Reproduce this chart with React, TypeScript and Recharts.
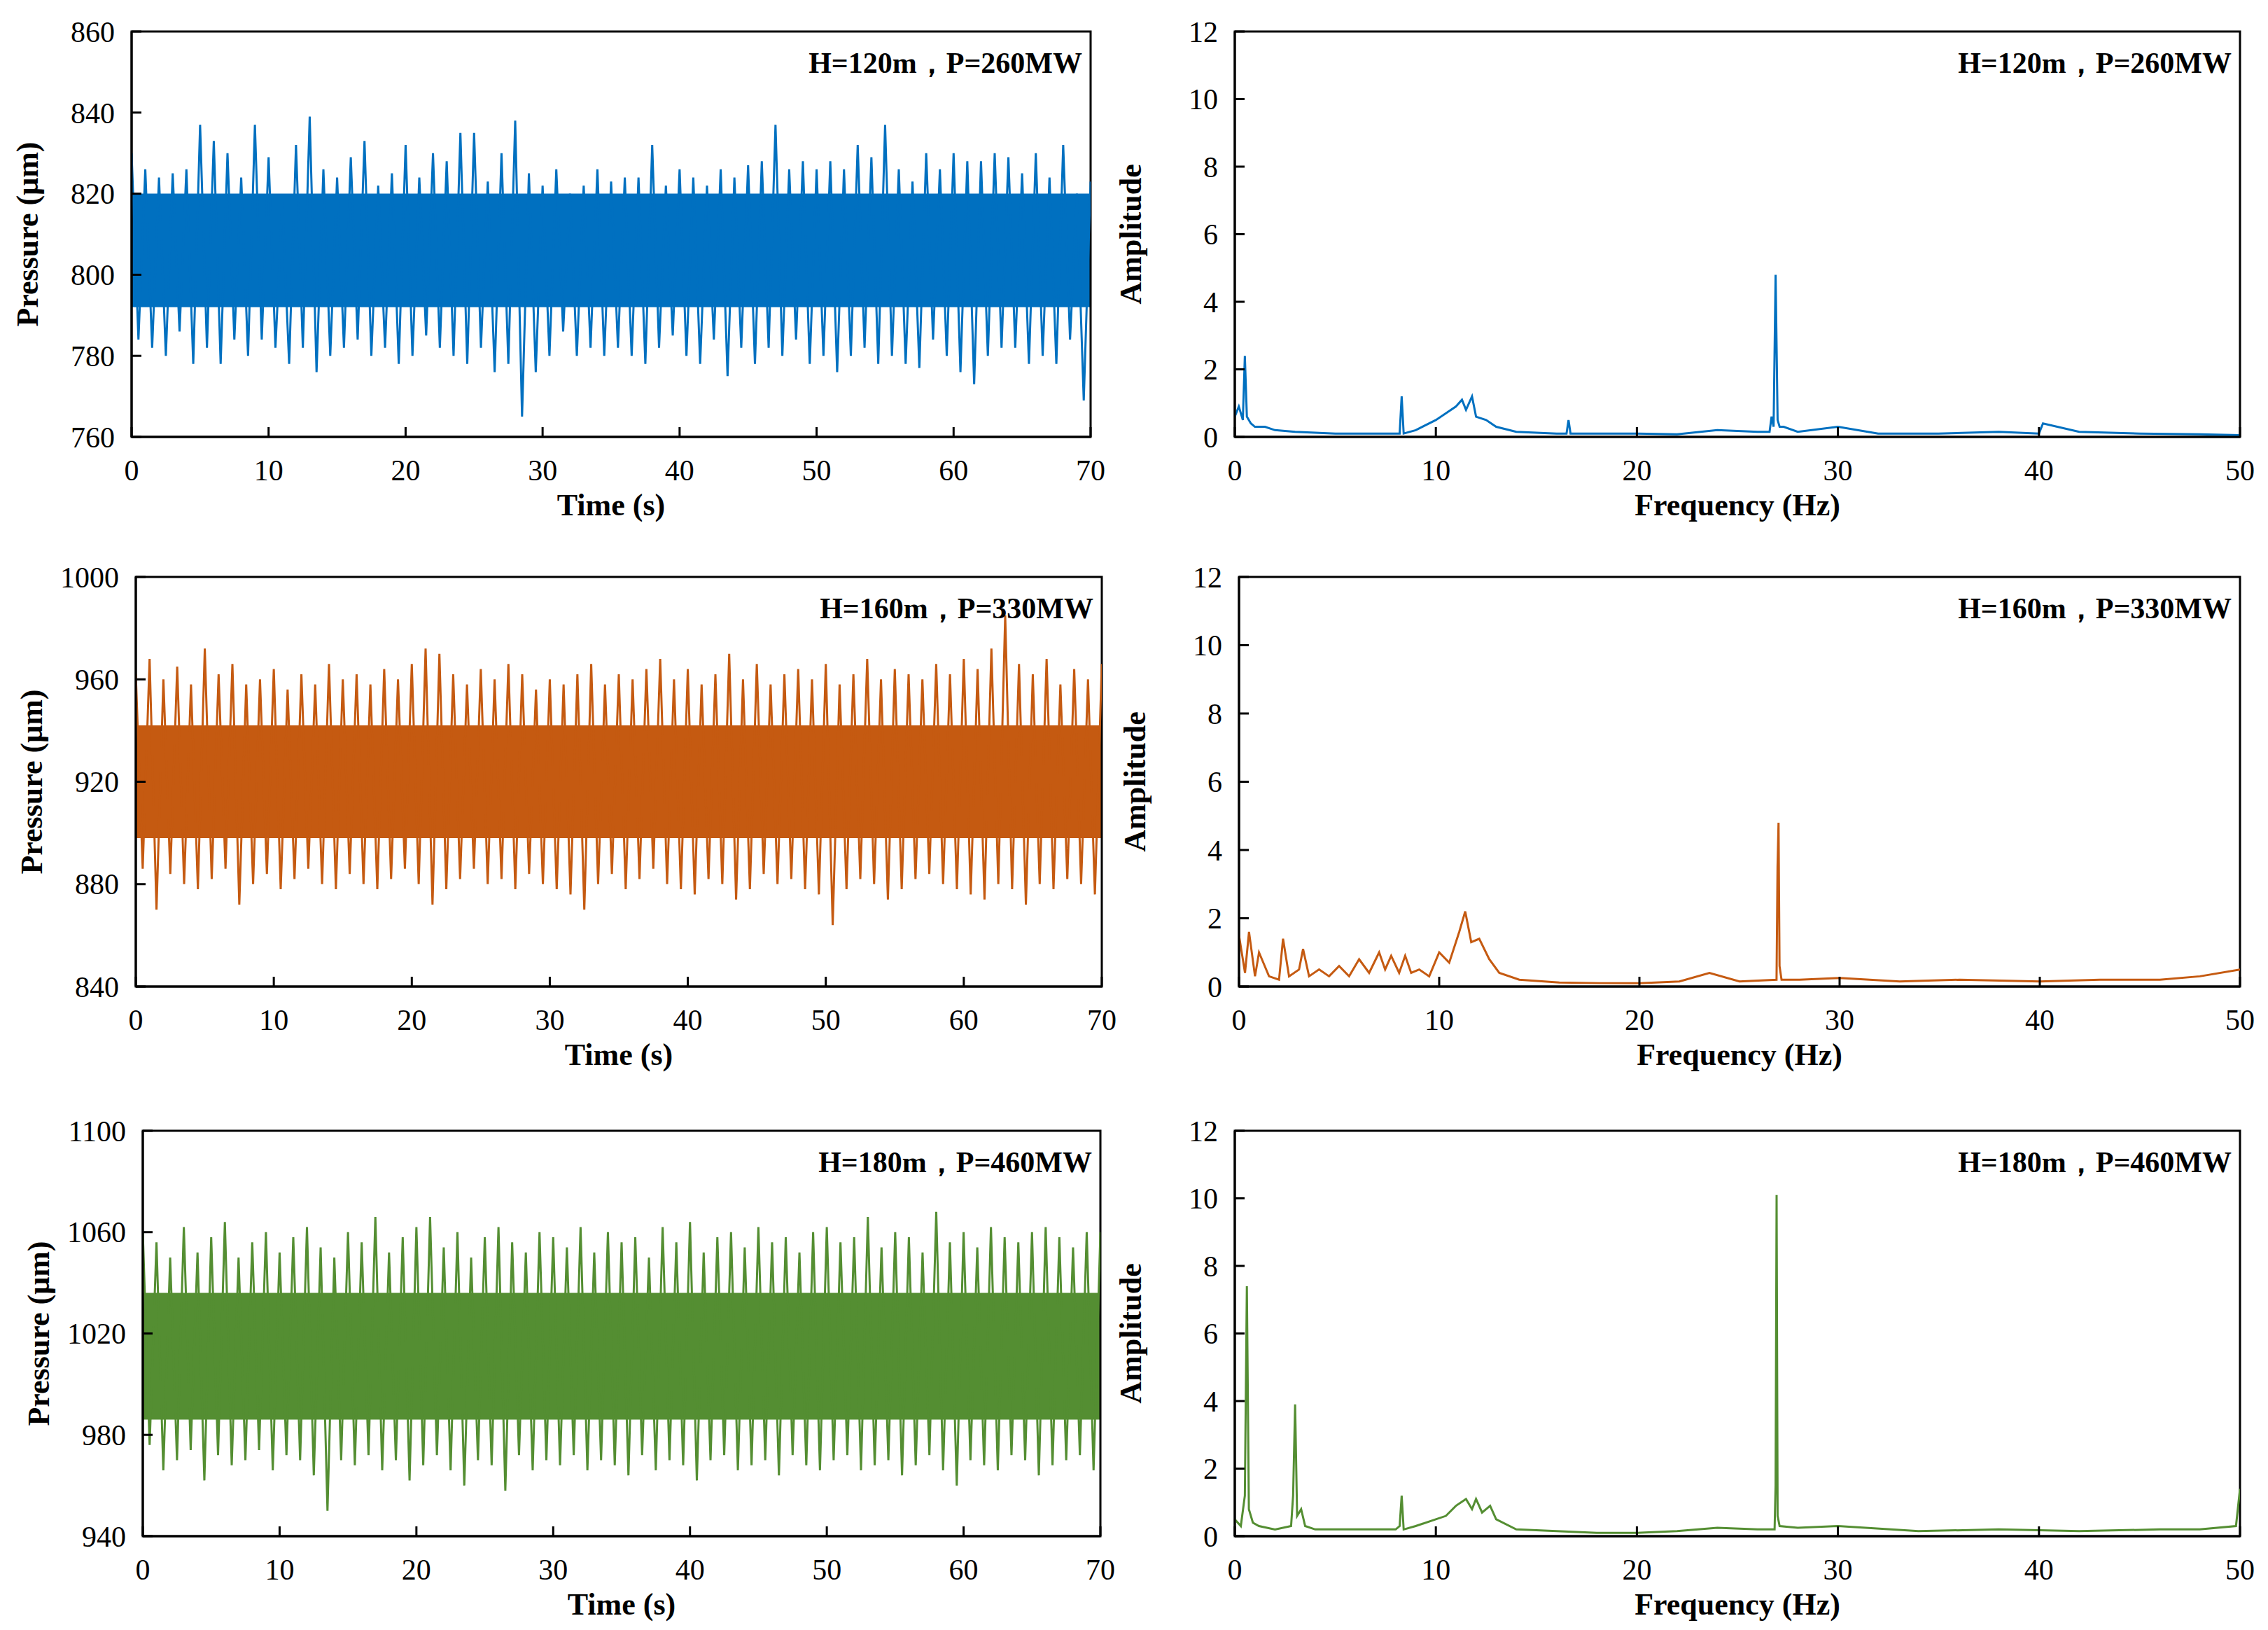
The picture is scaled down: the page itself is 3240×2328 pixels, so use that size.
import React from 'react'
import { LineChart, Line, XAxis, YAxis, ReferenceArea } from 'recharts'

// ---- time series envelopes, one high/low per second (t = 0..70) ----
const blueHigh = [830, 826, 824, 825, 826, 837, 833, 830, 824, 837, 829, 818, 832, 839, 826, 824, 829, 833, 822, 825, 832, 824, 830, 828, 835, 835, 823, 830, 838, 825, 822, 826, 820, 822, 826, 823, 824, 824, 832, 822, 826, 824, 822, 826, 824, 827, 828, 837, 826, 828, 826, 828, 826, 832, 829, 837, 826, 823, 830, 826, 830, 828, 828, 830, 829, 825, 830, 824, 832, 820, 823]
const blueLow = [784, 782, 780, 786, 778, 782, 778, 784, 780, 784, 782, 778, 782, 776, 780, 782, 784, 780, 782, 778, 780, 785, 782, 780, 778, 782, 776, 778, 765, 776, 780, 786, 780, 782, 780, 782, 780, 778, 782, 785, 780, 778, 784, 775, 782, 778, 782, 780, 784, 778, 780, 776, 780, 782, 778, 780, 778, 777, 784, 780, 776, 773, 780, 782, 782, 778, 780, 778, 784, 769, 782]

const orangeHigh = [962, 968, 960, 965, 958, 972, 962, 966, 958, 960, 964, 956, 962, 958, 966, 960, 962, 958, 964, 960, 966, 972, 970, 962, 958, 964, 960, 966, 962, 956, 960, 958, 962, 966, 958, 962, 960, 964, 968, 960, 964, 958, 962, 970, 960, 966, 958, 962, 964, 960, 966, 958, 962, 968, 960, 964, 962, 960, 966, 962, 968, 964, 972, 985, 966, 962, 968, 958, 964, 960, 966]
const orangeLow = [886, 870, 884, 880, 878, 882, 886, 872, 880, 884, 878, 882, 886, 880, 878, 884, 880, 878, 882, 886, 880, 872, 878, 882, 886, 880, 882, 878, 884, 880, 878, 876, 870, 880, 884, 878, 882, 886, 880, 878, 876, 882, 880, 874, 878, 884, 880, 882, 878, 876, 864, 878, 882, 880, 874, 878, 882, 884, 880, 878, 876, 874, 880, 878, 872, 880, 878, 882, 880, 876, 888]

const greenHigh = [1060, 1056, 1050, 1062, 1052, 1058, 1064, 1050, 1056, 1060, 1052, 1058, 1062, 1054, 1050, 1060, 1056, 1066, 1052, 1058, 1062, 1066, 1054, 1060, 1050, 1058, 1062, 1056, 1052, 1060, 1058, 1054, 1062, 1052, 1060, 1056, 1058, 1050, 1062, 1056, 1064, 1052, 1058, 1060, 1054, 1062, 1056, 1058, 1052, 1060, 1062, 1056, 1058, 1066, 1054, 1060, 1058, 1052, 1068, 1056, 1060, 1054, 1062, 1058, 1056, 1060, 1062, 1058, 1054, 1060, 1060]
const greenLow = [976, 966, 970, 974, 962, 972, 968, 970, 974, 966, 972, 970, 964, 950, 970, 968, 972, 966, 970, 962, 968, 972, 966, 960, 970, 968, 958, 972, 966, 970, 968, 972, 966, 970, 968, 964, 972, 966, 970, 968, 962, 970, 972, 966, 968, 970, 964, 972, 968, 966, 970, 972, 966, 968, 970, 964, 968, 972, 966, 960, 970, 968, 966, 972, 970, 964, 968, 970, 972, 966, 972]

// ---- spectra ----
const blueFreq = [0, 0.2, 0.4, 0.5, 0.6, 0.8, 1, 1.5, 2, 3, 5, 7, 8.2, 8.3, 8.4, 9, 10, 10.5, 11, 11.3, 11.5, 11.8, 12, 12.5, 13, 14, 16, 16.5, 16.6, 16.7, 18, 20, 22, 24, 26, 26.6, 26.7, 26.8, 26.9, 27, 27.1, 27.3, 28, 30, 32, 35, 38, 40, 40.2, 42, 45, 48, 50]
const blueAmp = [0.6, 0.9, 0.5, 2.4, 0.6, 0.4, 0.3, 0.3, 0.2, 0.15, 0.1, 0.1, 0.1, 1.2, 0.1, 0.2, 0.5, 0.7, 0.9, 1.1, 0.8, 1.2, 0.6, 0.5, 0.3, 0.15, 0.1, 0.1, 0.5, 0.1, 0.1, 0.1, 0.08, 0.2, 0.15, 0.15, 0.6, 0.3, 4.8, 0.5, 0.3, 0.3, 0.15, 0.3, 0.1, 0.1, 0.15, 0.1, 0.4, 0.15, 0.1, 0.08, 0.05]

const orangeFreq = [0, 0.3, 0.5, 0.8, 1, 1.5, 2, 2.2, 2.5, 3, 3.2, 3.5, 4, 4.5, 5, 5.5, 6, 6.5, 7, 7.3, 7.6, 8, 8.3, 8.6, 9, 9.5, 10, 10.5, 11, 11.3, 11.6, 12, 12.5, 13, 14, 16, 18, 20, 22, 23.5, 25, 26.85, 26.9, 26.95, 27, 27.1, 28, 30, 33, 36, 40, 43, 46, 48, 50]
const orangeAmp = [1.5, 0.4, 1.6, 0.3, 1.0, 0.3, 0.2, 1.4, 0.3, 0.5, 1.1, 0.3, 0.5, 0.3, 0.6, 0.3, 0.8, 0.4, 1.0, 0.5, 0.9, 0.4, 0.9, 0.4, 0.5, 0.3, 1.0, 0.7, 1.6, 2.2, 1.3, 1.4, 0.8, 0.4, 0.2, 0.12, 0.1, 0.1, 0.15, 0.4, 0.15, 0.2, 3.5, 4.8, 0.6, 0.2, 0.2, 0.25, 0.15, 0.2, 0.15, 0.2, 0.2, 0.3, 0.5]

const greenFreq = [0, 0.3, 0.5, 0.6, 0.7, 0.9, 1.2, 2, 2.8, 2.9, 3.0, 3.1, 3.3, 3.5, 4, 6, 8, 8.2, 8.3, 8.4, 9, 10, 10.5, 11, 11.5, 11.8, 12, 12.3, 12.7, 13, 14, 16, 18, 20, 22, 24, 26, 26.85, 26.9, 26.95, 27, 27.1, 28, 30, 34, 38, 42, 46, 48, 49.8, 50]
const greenAmp = [0.5, 0.3, 1.2, 7.4, 0.8, 0.4, 0.3, 0.2, 0.3, 1.2, 3.9, 0.6, 0.8, 0.3, 0.2, 0.2, 0.2, 0.3, 1.2, 0.2, 0.3, 0.5, 0.6, 0.9, 1.1, 0.8, 1.1, 0.7, 0.9, 0.5, 0.2, 0.15, 0.1, 0.1, 0.15, 0.25, 0.2, 0.2, 1.5, 10.1, 0.6, 0.3, 0.25, 0.3, 0.15, 0.2, 0.15, 0.2, 0.2, 0.3, 1.4]

const timeTicks = [0, 10, 20, 30, 40, 50, 60, 70]
const freqTicks = [0, 10, 20, 30, 40, 50]
const ampTicks = [0, 2, 4, 6, 8, 10, 12]

const FONT = '"Liberation Serif", "Times New Roman", serif'
const TICK_MARGIN = 24
const TICK_LEN = 14

function zigzag(high: number[], low: number[]) {
  const out: { x: number; y: number }[] = []
  high.forEach((h, i) => {
    out.push({ x: i, y: h })
    if (i < high.length - 1) out.push({ x: i + 0.5, y: low[i] })
  })
  return out
}

function pairs(xs: number[], ys: number[]) {
  return xs.map((x, i) => ({ x, y: ys[i] }))
}

// ticks drawn inward, as in the reference
function BottomTick(props: any) {
  const { x, y, payload } = props
  const axisY = y - TICK_MARGIN
  return (
    <g>
      <line x1={x} x2={x} y1={axisY} y2={axisY - TICK_LEN} stroke="#000" strokeWidth={3} />
      <text x={x} y={y} dy="0.9em" textAnchor="middle" fontSize={42} fontFamily={FONT} fill="#000">
        {payload.value}
      </text>
    </g>
  )
}

function LeftTick(props: any) {
  const { x, y, payload } = props
  const axisX = x + TICK_MARGIN
  return (
    <g>
      <line x1={axisX} x2={axisX + TICK_LEN} y1={y} y2={y} stroke="#000" strokeWidth={3} />
      <text x={x} y={y} dy="0.35em" textAnchor="end" fontSize={42} fontFamily={FONT} fill="#000">
        {payload.value}
      </text>
    </g>
  )
}

interface PanelProps {
  data: { x: number; y: number }[]
  color: string
  plotL: number
  plotR: number
  plotT: number
  plotB: number
  xDomain: [number, number]
  xTicks: number[]
  yDomain: [number, number]
  yTicks: number[]
  xLabel: string
  yLabel: string
  title: string
  band?: [number, number]
  strokeWidth: number
}

function Panel(p: PanelProps) {
  const yAxisW = 110
  const left = p.plotL - yAxisW - 75
  const top = p.plotT - 25
  const width = p.plotR - left + 40
  const height = p.plotB - top + 150
  return (
    <div style={{ position: 'absolute', left, top, width, height }}>
      <LineChart
        width={width}
        height={height}
        data={p.data}
        margin={{ top: 25, right: 40, left: 75, bottom: 10 }}
      >
        <XAxis
          dataKey="x"
          type="number"
          domain={p.xDomain}
          ticks={p.xTicks}
          tick={<BottomTick />}
          axisLine={{ stroke: '#000', strokeWidth: 3 }}
          tickLine={false}
          tickSize={0}
          tickMargin={TICK_MARGIN}
          height={140}
          allowDataOverflow
          label={{ value: p.xLabel, position: 'insideBottom', offset: 28, style: { fontSize: 44, fontWeight: 'bold', fill: '#000', fontFamily: FONT } }}
        />
        <YAxis
          domain={p.yDomain}
          ticks={p.yTicks}
          tick={<LeftTick />}
          axisLine={{ stroke: '#000', strokeWidth: 3 }}
          tickLine={false}
          tickSize={0}
          tickMargin={TICK_MARGIN}
          width={yAxisW}
          allowDataOverflow
          label={{ value: p.yLabel, angle: -90, position: 'insideLeft', offset: -40, style: { fontSize: 44, fontWeight: 'bold', fill: '#000', fontFamily: FONT, textAnchor: 'middle' } }}
        />
        {p.band && (
          <ReferenceArea x1={p.xDomain[0]} x2={p.xDomain[1]} y1={p.band[0]} y2={p.band[1]} fill={p.color} fillOpacity={1} stroke="none" />
        )}
        <Line
          type="linear"
          dataKey="y"
          stroke={p.color}
          strokeWidth={p.strokeWidth}
          dot={false}
          isAnimationActive={false}
        />
        <ReferenceArea x1={p.xDomain[0]} x2={p.xDomain[1]} y1={p.yDomain[0]} y2={p.yDomain[1]} fill="none" stroke="#000" strokeWidth={3} ifOverflow="visible" />
      </LineChart>
      <div
        style={{
          position: 'absolute',
          right: 52,
          top: 42,
          fontFamily: FONT,
          fontWeight: 'bold',
          fontSize: 42,
          color: '#000',
        }}
      >
        {p.title}
      </div>
    </div>
  )
}

export default function App() {
  return (
    <div style={{ position: 'relative', width: 3240, height: 2328, background: '#fff' }}>
      <Panel data={zigzag(blueHigh, blueLow)} color="#0070C0" plotL={180} plotR={1550} plotT={37} plotB={616}
        xDomain={[0, 70]} xTicks={timeTicks} yDomain={[760, 860]} yTicks={[760, 780, 800, 820, 840, 860]}
        xLabel="Time (s)" yLabel="Pressure (μm)" title="H=120m，P=260MW" band={[792, 820]} strokeWidth={3} />
      <Panel data={pairs(blueFreq, blueAmp)} color="#0070C0" plotL={1756} plotR={3192} plotT={37} plotB={616}
        xDomain={[0, 50]} xTicks={freqTicks} yDomain={[0, 12]} yTicks={ampTicks}
        xLabel="Frequency (Hz)" yLabel="Amplitude" title="H=120m，P=260MW" strokeWidth={3} />

      <Panel data={zigzag(orangeHigh, orangeLow)} color="#C55A11" plotL={186} plotR={1566} plotT={816} plotB={1401}
        xDomain={[0, 70]} xTicks={timeTicks} yDomain={[840, 1000]} yTicks={[840, 880, 920, 960, 1000]}
        xLabel="Time (s)" yLabel="Pressure (μm)" title="H=160m，P=330MW" band={[898, 942]} strokeWidth={3} />
      <Panel data={pairs(orangeFreq, orangeAmp)} color="#C55A11" plotL={1762} plotR={3192} plotT={816} plotB={1401}
        xDomain={[0, 50]} xTicks={freqTicks} yDomain={[0, 12]} yTicks={ampTicks}
        xLabel="Frequency (Hz)" yLabel="Amplitude" title="H=160m，P=330MW" strokeWidth={3} />

      <Panel data={zigzag(greenHigh, greenLow)} color="#548E32" plotL={196} plotR={1564} plotT={1607} plotB={2186}
        xDomain={[0, 70]} xTicks={timeTicks} yDomain={[940, 1100]} yTicks={[940, 980, 1020, 1060, 1100]}
        xLabel="Time (s)" yLabel="Pressure (μm)" title="H=180m，P=460MW" band={[986, 1036]} strokeWidth={3} />
      <Panel data={pairs(greenFreq, greenAmp)} color="#548E32" plotL={1756} plotR={3192} plotT={1607} plotB={2186}
        xDomain={[0, 50]} xTicks={freqTicks} yDomain={[0, 12]} yTicks={ampTicks}
        xLabel="Frequency (Hz)" yLabel="Amplitude" title="H=180m，P=460MW" strokeWidth={3} />
    </div>
  )
}
